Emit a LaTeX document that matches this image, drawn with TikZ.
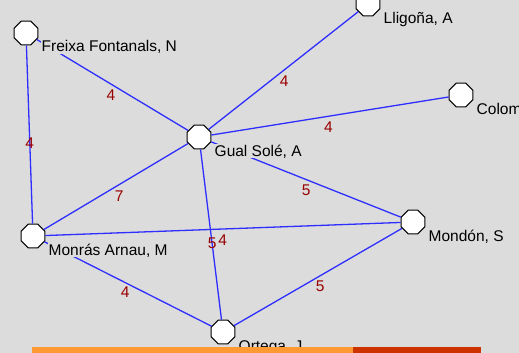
\documentclass[tikz,border=0pt]{standalone}
\usepackage{fontspec}
\usetikzlibrary{shapes.geometric}
\newfontfamily\graphfont{Liberation Sans}
\definecolor{PanelBG}{HTML}{DCDCDC}
\definecolor{TieBlue}{HTML}{2E2EFF}
\definecolor{WeightRed}{HTML}{990000}
\definecolor{BarOrange}{HTML}{FF9933}
\definecolor{BarRed}{HTML}{CC3300}

\begin{document}
\begin{tikzpicture}[x=1pt,y=-1pt,
  person/.style={regular polygon,regular polygon sides=8,draw=black,fill=white,line width=1pt,minimum size=25.5pt,inner sep=0pt},
  tie/.style={TieBlue,line width=1.3pt},
  tiewt/.style={text=WeightRed,font=\graphfont\fontsize{15.5}{16}\selectfont,inner sep=0pt},
  namelab/.style={anchor=base west,fill=PanelBG,inner sep=0.5pt,font=\graphfont\fontsize{15.5}{18}\selectfont}]
  \fill[PanelBG] (0,0) rectangle (519,353);
  \useasboundingbox (0,0) rectangle (519,353);
  % people
  \node[person] (F) at (26,33) {};
  \node[person] (L) at (368,4) {};
  \node[person] (C) at (461,95) {};
  \node[person] (G) at (199,137) {};
  \node[person] (M) at (33,236) {};
  \node[person] (S) at (413,222) {};
  \node[person] (O) at (223,332) {};
  % ties and weights
  \draw[tie] (F) -- node[tiewt,pos=.547] {4} (M);
  \draw[tie] (F) -- node[tiewt,pos=.533,below left=1.5pt] {4} (G);
  \draw[tie] (G) -- node[tiewt,pos=.468,below right=0.5pt] {4} (L);
  \draw[tie] (G) -- node[tiewt,pos=.493,below=5pt] {4} (C);
  \draw[tie] (G) -- node[tiewt,pos=.517,below=3pt,xshift=-3pt] {5} (S);
  \draw[tie] (G) -- node[tiewt,pos=.523,below right=1.5pt] {7} (M);
  \draw[tie] (G) -- node[tiewt,pos=.553] {5} (O);
  \draw[tie] (M) -- node[tiewt,pos=.499,below=5pt] {4} (S);
  \draw[tie] (M) -- node[tiewt,pos=.519,below left=1pt] {4} (O);
  \draw[tie] (O) -- node[tiewt,pos=.477,below right=1pt] {5} (S);
  % names
  \node[namelab] (Flab) at ([xshift=15pt,yshift=-19pt]F.center) {Freixa Fontanals, N};
  \node[namelab] (Llab) at ([xshift=15pt,yshift=-20pt]L.center) {Lligoña, A};
  \node[namelab] (Clab) at ([xshift=15pt,yshift=-19pt]C.center) {Colom};
  \node[namelab] (Glab) at ([xshift=15pt,yshift=-19pt]G.center) {Gual Solé, A};
  \node[namelab] (Mlab) at ([xshift=15pt,yshift=-19pt]M.center) {Monrás Arnau, M};
  \node[namelab] (Slab) at ([xshift=15pt,yshift=-19pt]S.center) {Mondón, S};
  \node[namelab] (Olab) at ([xshift=15pt,yshift=-19pt]O.center) {Ortega, J};
  % bottom bar
  \fill[BarOrange] (32,347) rectangle (353,353);
  \fill[BarRed] (353,347) rectangle (481,353);
\end{tikzpicture}
\end{document}
